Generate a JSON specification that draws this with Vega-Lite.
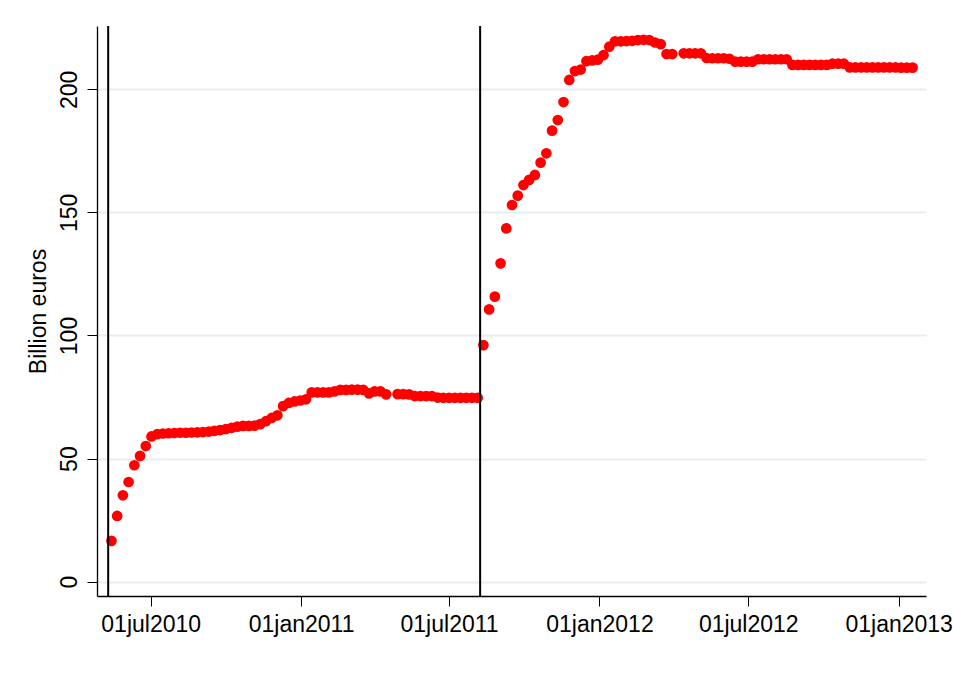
{
  "$schema": "https://vega.github.io/schema/vega-lite/v6.json",
  "width": 829,
  "height": 570,
  "autosize": "none",
  "padding": {"left": 97, "top": 26, "right": 27, "bottom": 94},
  "background": "white",
  "config": {
    "font": "Liberation Sans",
    "view": {"stroke": null},
    "axis": {"labelFont": "Liberation Sans", "titleFont": "Liberation Sans", "labelColor": "#000000", "titleColor": "#000000"}
  },
  "datasets": {
    "smp": [
      {"date": "2010-05-14", "value": 16.6}, {"date": "2010-05-21", "value": 26.7}, {"date": "2010-05-28", "value": 35.1},
      {"date": "2010-06-04", "value": 40.5}, {"date": "2010-06-11", "value": 47.3}, {"date": "2010-06-18", "value": 51.1},
      {"date": "2010-06-25", "value": 55.1}, {"date": "2010-07-02", "value": 59.0}, {"date": "2010-07-09", "value": 59.9},
      {"date": "2010-07-16", "value": 60.2}, {"date": "2010-07-23", "value": 60.3}, {"date": "2010-07-30", "value": 60.4},
      {"date": "2010-08-06", "value": 60.5}, {"date": "2010-08-13", "value": 60.5}, {"date": "2010-08-20", "value": 60.6},
      {"date": "2010-08-27", "value": 60.7}, {"date": "2010-09-03", "value": 60.8}, {"date": "2010-09-10", "value": 61.0},
      {"date": "2010-09-17", "value": 61.3}, {"date": "2010-09-24", "value": 61.6}, {"date": "2010-10-01", "value": 62.0},
      {"date": "2010-10-08", "value": 62.5}, {"date": "2010-10-15", "value": 63.0}, {"date": "2010-10-22", "value": 63.3},
      {"date": "2010-10-29", "value": 63.3}, {"date": "2010-11-05", "value": 63.4}, {"date": "2010-11-12", "value": 64.0},
      {"date": "2010-11-19", "value": 65.2}, {"date": "2010-11-26", "value": 66.5}, {"date": "2010-12-03", "value": 67.6},
      {"date": "2010-12-10", "value": 71.3}, {"date": "2010-12-17", "value": 72.6}, {"date": "2010-12-24", "value": 73.2},
      {"date": "2010-12-31", "value": 73.6}, {"date": "2011-01-07", "value": 74.1}, {"date": "2011-01-14", "value": 76.9},
      {"date": "2011-01-21", "value": 76.9}, {"date": "2011-01-28", "value": 76.9}, {"date": "2011-02-04", "value": 76.9},
      {"date": "2011-02-11", "value": 77.3}, {"date": "2011-02-18", "value": 77.9}, {"date": "2011-02-25", "value": 77.9},
      {"date": "2011-03-04", "value": 78.0}, {"date": "2011-03-11", "value": 78.0}, {"date": "2011-03-18", "value": 77.9},
      {"date": "2011-03-25", "value": 76.5}, {"date": "2011-04-01", "value": 77.3}, {"date": "2011-04-08", "value": 77.3},
      {"date": "2011-04-15", "value": 76.1}, {"date": "2011-04-29", "value": 76.2}, {"date": "2011-05-06", "value": 76.2},
      {"date": "2011-05-13", "value": 76.1}, {"date": "2011-05-20", "value": 75.4}, {"date": "2011-05-27", "value": 75.4},
      {"date": "2011-06-03", "value": 75.4}, {"date": "2011-06-10", "value": 75.4}, {"date": "2011-06-17", "value": 74.8},
      {"date": "2011-06-24", "value": 74.7}, {"date": "2011-07-01", "value": 74.7}, {"date": "2011-07-08", "value": 74.7},
      {"date": "2011-07-15", "value": 74.7}, {"date": "2011-07-22", "value": 74.7}, {"date": "2011-07-29", "value": 74.7},
      {"date": "2011-08-05", "value": 74.7}, {"date": "2011-08-12", "value": 96.1}, {"date": "2011-08-19", "value": 110.6},
      {"date": "2011-08-26", "value": 115.8}, {"date": "2011-09-02", "value": 129.3}, {"date": "2011-09-09", "value": 143.5},
      {"date": "2011-09-16", "value": 153.0}, {"date": "2011-09-23", "value": 156.8}, {"date": "2011-09-30", "value": 161.1},
      {"date": "2011-10-07", "value": 163.2}, {"date": "2011-10-14", "value": 165.2}, {"date": "2011-10-21", "value": 170.2},
      {"date": "2011-10-28", "value": 174.0}, {"date": "2011-11-04", "value": 183.2}, {"date": "2011-11-11", "value": 187.5},
      {"date": "2011-11-18", "value": 194.8}, {"date": "2011-11-25", "value": 203.8}, {"date": "2011-12-02", "value": 207.4},
      {"date": "2011-12-09", "value": 208.0}, {"date": "2011-12-16", "value": 211.4}, {"date": "2011-12-23", "value": 211.7},
      {"date": "2011-12-30", "value": 212.0}, {"date": "2012-01-06", "value": 213.9}, {"date": "2012-01-13", "value": 217.3},
      {"date": "2012-01-20", "value": 219.5}, {"date": "2012-01-27", "value": 219.5}, {"date": "2012-02-03", "value": 219.6},
      {"date": "2012-02-10", "value": 219.7}, {"date": "2012-02-17", "value": 220.0}, {"date": "2012-02-24", "value": 220.1},
      {"date": "2012-03-02", "value": 220.0}, {"date": "2012-03-09", "value": 219.0}, {"date": "2012-03-16", "value": 218.3},
      {"date": "2012-03-23", "value": 214.3}, {"date": "2012-03-30", "value": 214.3}, {"date": "2012-04-13", "value": 214.6},
      {"date": "2012-04-20", "value": 214.6}, {"date": "2012-04-27", "value": 214.6}, {"date": "2012-05-04", "value": 214.6},
      {"date": "2012-05-11", "value": 212.7}, {"date": "2012-05-18", "value": 212.6}, {"date": "2012-05-25", "value": 212.6},
      {"date": "2012-06-01", "value": 212.6}, {"date": "2012-06-08", "value": 212.4}, {"date": "2012-06-15", "value": 211.2},
      {"date": "2012-06-22", "value": 211.2}, {"date": "2012-06-29", "value": 211.2}, {"date": "2012-07-06", "value": 211.2},
      {"date": "2012-07-13", "value": 212.2}, {"date": "2012-07-20", "value": 212.2}, {"date": "2012-07-27", "value": 212.2},
      {"date": "2012-08-03", "value": 212.2}, {"date": "2012-08-10", "value": 212.2}, {"date": "2012-08-17", "value": 212.2},
      {"date": "2012-08-24", "value": 209.9}, {"date": "2012-08-31", "value": 209.9}, {"date": "2012-09-07", "value": 209.9},
      {"date": "2012-09-14", "value": 209.9}, {"date": "2012-09-21", "value": 209.9}, {"date": "2012-09-28", "value": 209.9},
      {"date": "2012-10-05", "value": 209.9}, {"date": "2012-10-12", "value": 210.4}, {"date": "2012-10-19", "value": 210.4},
      {"date": "2012-10-26", "value": 210.4}, {"date": "2012-11-02", "value": 208.9}, {"date": "2012-11-09", "value": 208.9},
      {"date": "2012-11-16", "value": 208.9}, {"date": "2012-11-23", "value": 208.9}, {"date": "2012-11-30", "value": 208.9},
      {"date": "2012-12-07", "value": 208.9}, {"date": "2012-12-14", "value": 208.9}, {"date": "2012-12-21", "value": 208.9},
      {"date": "2012-12-28", "value": 208.9}, {"date": "2013-01-04", "value": 208.8}, {"date": "2013-01-11", "value": 208.8},
      {"date": "2013-01-18", "value": 208.8}
    ],
    "events": [
      {"date": "2010-05-10"},
      {"date": "2011-08-08"}
    ]
  },
  "layer": [
    {
      "data": {"name": "smp"},
      "mark": {"type": "point", "shape": "circle", "filled": true, "size": 115, "color": "#ff0000", "opacity": 1},
      "encoding": {
        "x": {
          "field": "date", "type": "temporal",
          "scale": {"type": "utc", "domain": [{"year": 2010, "month": 4, "date": 26, "hours": 8, "utc": true}, {"year": 2013, "month": 2, "date": 3, "hours": 10, "utc": true}]},
          "axis": {
            "title": null,
            "grid": false,
            "values": [
              {"year": 2010, "month": 7, "date": 1, "utc": true},
              {"year": 2011, "month": 1, "date": 1, "utc": true},
              {"year": 2011, "month": 7, "date": 1, "utc": true},
              {"year": 2012, "month": 1, "date": 1, "utc": true},
              {"year": 2012, "month": 7, "date": 1, "utc": true},
              {"year": 2013, "month": 1, "date": 1, "utc": true}
            ],
            "labelExpr": "lower(utcFormat(datum.value, '%d%b%Y'))",
            "labelFontSize": 23,
            "labelPadding": 7,
            "labelFlush": false,
            "labelOverlap": false,
            "domainColor": "#000000",
            "domainWidth": 1.3,
            "tickColor": "#000000",
            "tickSize": 10,
            "tickWidth": 1
          }
        },
        "y": {
          "field": "value", "type": "quantitative",
          "scale": {"domain": [-5.8, 225.7], "nice": false, "zero": false},
          "axis": {
            "title": "Billion euros",
            "values": [0, 50, 100, 150, 200],
            "labelAngle": -90,
            "labelAlign": "center",
            "labelBaseline": "bottom",
            "labelFontSize": 23,
            "labelPadding": 6,
            "titleFontSize": 23,
            "titleFontWeight": "normal",
            "titlePadding": 8,
            "grid": true,
            "gridColor": "#e7eef1",
            "gridWidth": 2,
            "domainColor": "#000000",
            "domainWidth": 1.3,
            "tickColor": "#000000",
            "tickSize": 10,
            "tickWidth": 1
          }
        }
      }
    },
    {
      "data": {"name": "events"},
      "mark": {"type": "rule", "color": "#000000", "strokeWidth": 2},
      "encoding": {
        "x": {"field": "date", "type": "temporal"}
      }
    }
  ]
}
